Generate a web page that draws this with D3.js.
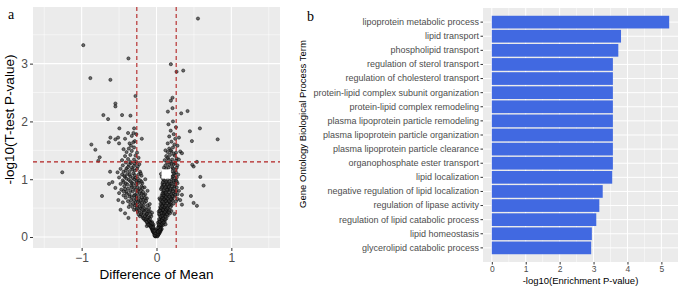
<!DOCTYPE html>
<html>
<head>
<meta charset="utf-8">
<script src="https://cdn.jsdelivr.net/npm/d3@7"></script>
<style>
  body { margin: 0; background: #fff; }
  svg { display: block; font-family: "Liberation Sans", Arial, sans-serif; }
</style>
</head>
<body>
<svg id="chart" width="685" height="289"></svg>
<script>
// ---- panel a: volcano points [difference of mean, -log10 p] ----
const outlierPoints = [
  [0.554, 3.78], [-0.978, 3.32], [-0.375, 3.09], [-0.884, 2.75], [-0.616, 2.72],
  [0.192, 2.99], [0.268, 2.86], [0.357, 2.88], [-0.281, 2.44], [-0.549, 2.31],
  [-0.549, 2.26], [0.214, 2.41], [0.192, 2.36], [-0.71, 2.11], [-0.46, 2.11],
  [-0.348, 2.10], [-0.647, 2.04], [0.152, 2.17], [0.214, 2.23], [0.33, 2.14],
  [0.415, 2.18], [-0.496, 1.88], [-0.299, 1.88], [-0.308, 1.80], [0.58, 1.88],
  [0.446, 1.83], [0.817, 1.69], [-0.196, 1.70], [-0.513, 1.72], [-0.549, 1.69],
  [0.473, 1.66], [-0.87, 1.60], [-0.616, 1.72], [-0.638, 1.64], [-0.5, 1.62],
  [-0.817, 1.51], [-0.759, 1.38], [-0.777, 1.32], [-1.259, 1.12], [-0.62, 1.13],
  [-0.634, 0.92], [-0.589, 0.95], [-0.728, 0.71], [0.585, 1.04], [0.629, 0.89],
  [0.496, 1.22], [0.478, 1.25], [0.54, 1.30], [0.46, 0.71], [0.496, 0.59],
  [0.54, 0.54], [0.34, 0.85], [0.34, 0.73], [0.317, 1.48], [0.34, 1.45],
  [0.299, 1.34], [0.34, 0.56], [0.317, 0.64]
];

const cloudPoints = [
  // tip
  [-0.01, 0.01], [0.01, 0.02], [0.0, 0.03], [-0.02, 0.04], [0.02, 0.03], [-0.03, 0.06],
  [0.03, 0.05], [-0.04, 0.08], [0.04, 0.07], [-0.05, 0.1], [0.05, 0.09], [-0.02, 0.09],
  [0.02, 0.11], [-0.06, 0.13], [0.06, 0.12], [-0.03, 0.14], [0.03, 0.15], [-0.07, 0.16],
  [0.07, 0.14], [0.0, 0.05], [-0.01, 0.07], [0.01, 0.08], [-0.04, 0.12], [0.04, 0.13],
  [-0.015, 0.02], [0.015, 0.04], [-0.025, 0.05], [0.025, 0.07], [-0.035, 0.09], [0.035, 0.1],
  [-0.045, 0.11], [0.045, 0.11], [-0.055, 0.14], [0.055, 0.15], [-0.01, 0.12], [0.01, 0.1],
  // 0.15 - 0.3
  [-0.08, 0.18], [-0.1, 0.2], [-0.05, 0.19], [-0.12, 0.24], [-0.07, 0.22], [-0.09, 0.27],
  [-0.14, 0.28], [-0.04, 0.21], [-0.11, 0.3], [-0.06, 0.26], [-0.13, 0.19], [-0.16, 0.3],
  [0.05, 0.18], [0.07, 0.2], [0.03, 0.19], [0.08, 0.24], [0.04, 0.23], [0.06, 0.27],
  [0.1, 0.29], [0.09, 0.21], [0.05, 0.3], [0.11, 0.26], [0.02, 0.25], [0.12, 0.22],
  [-0.085, 0.25], [-0.1, 0.23], [0.065, 0.25], [0.085, 0.28], [0.035, 0.27], [-0.065, 0.2],
  // 0.3 - 0.5
  [-0.18, 0.33], [-0.1, 0.34], [-0.22, 0.36], [-0.14, 0.38], [-0.07, 0.36], [-0.2, 0.42],
  [-0.25, 0.44], [-0.12, 0.41], [-0.17, 0.46], [-0.09, 0.45], [-0.27, 0.48], [-0.21, 0.5],
  [-0.15, 0.49], [-0.3, 0.47], [-0.24, 0.39], [-0.06, 0.42], [-0.375, 0.33], [-0.42, 0.41],
  [0.06, 0.33], [0.09, 0.35], [0.13, 0.32], [0.04, 0.38], [0.11, 0.4], [0.15, 0.37],
  [0.07, 0.43], [0.1, 0.46], [0.14, 0.44], [0.18, 0.41], [0.05, 0.48], [0.12, 0.5],
  [0.16, 0.48], [0.08, 0.39], [0.2, 0.45], [0.03, 0.44], [0.07, 0.31], [0.1, 0.37],
  [0.13, 0.42], [0.06, 0.46], [0.09, 0.49], [0.24, 0.4],
  // 0.5 - 0.7
  [-0.32, 0.52], [-0.26, 0.54], [-0.19, 0.53], [-0.12, 0.55], [-0.35, 0.57], [-0.28, 0.59],
  [-0.22, 0.58], [-0.16, 0.6], [-0.09, 0.57], [-0.38, 0.62], [-0.3, 0.64], [-0.24, 0.63],
  [-0.18, 0.65], [-0.13, 0.67], [-0.41, 0.68], [-0.33, 0.69], [-0.27, 0.7], [-0.2, 0.68],
  [-0.45, 0.6], [-0.37, 0.52], [-0.51, 0.64], [-0.48, 0.47],
  [0.05, 0.52], [0.1, 0.54], [0.15, 0.53], [0.2, 0.55], [0.07, 0.58], [0.12, 0.59],
  [0.17, 0.6], [0.23, 0.58], [0.06, 0.63], [0.11, 0.65], [0.16, 0.64], [0.21, 0.66],
  [0.26, 0.62], [0.09, 0.69], [0.14, 0.7], [0.19, 0.68], [0.24, 0.7], [0.04, 0.67],
  [0.08, 0.56], [0.13, 0.62], [0.18, 0.57], [0.1, 0.67], [0.28, 0.66],
  // 0.7 - 0.9
  [-0.44, 0.72], [-0.36, 0.74], [-0.29, 0.73], [-0.22, 0.75], [-0.15, 0.74], [-0.4, 0.78],
  [-0.32, 0.79], [-0.25, 0.8], [-0.18, 0.78], [-0.47, 0.82], [-0.38, 0.84], [-0.3, 0.85],
  [-0.23, 0.83], [-0.16, 0.86], [-0.43, 0.88], [-0.34, 0.89], [-0.27, 0.9], [-0.2, 0.88],
  [-0.5, 0.76], [-0.12, 0.8], [-0.44, 0.79], [-0.55, 0.85],
  [0.07, 0.72], [0.12, 0.74], [0.17, 0.73], [0.22, 0.75], [0.28, 0.74], [0.09, 0.78],
  [0.14, 0.79], [0.19, 0.8], [0.25, 0.78], [0.06, 0.83], [0.11, 0.84], [0.16, 0.85],
  [0.21, 0.83], [0.27, 0.86], [0.08, 0.88], [0.13, 0.89], [0.18, 0.9], [0.24, 0.88],
  [0.3, 0.8], [0.1, 0.76], [0.15, 0.82],
  // 0.9 - 1.1
  [-0.48, 0.92], [-0.41, 0.93], [-0.33, 0.94], [-0.26, 0.95], [-0.19, 0.93], [-0.45, 0.98],
  [-0.37, 0.99], [-0.3, 1.0], [-0.22, 0.98], [-0.5, 1.03], [-0.42, 1.04], [-0.35, 1.05],
  [-0.28, 1.03], [-0.2, 1.06], [-0.46, 1.08], [-0.39, 1.09], [-0.31, 1.1], [-0.24, 1.08],
  [-0.15, 1.0],
  [0.08, 0.92], [0.13, 0.94], [0.18, 0.93], [0.23, 0.95], [0.28, 0.93], [0.1, 0.98],
  [0.15, 0.99], [0.2, 1.0], [0.26, 0.98], [0.07, 1.04], [0.22, 1.05], [0.27, 1.03],
  [0.24, 1.09], [0.29, 1.08], [0.06, 1.09],
  // 1.1 - 1.3
  [-0.52, 1.12], [-0.44, 1.13], [-0.36, 1.14], [-0.29, 1.15], [-0.22, 1.13], [-0.48, 1.18],
  [-0.4, 1.19], [-0.33, 1.2], [-0.26, 1.18], [-0.45, 1.24], [-0.37, 1.25], [-0.3, 1.23],
  [-0.23, 1.26], [-0.41, 1.29], [-0.34, 1.28], [-0.27, 1.3],
  [0.09, 1.13], [0.21, 1.14], [0.26, 1.12], [0.1, 1.2], [0.22, 1.19], [0.27, 1.2],
  [0.12, 1.24], [0.17, 1.25], [0.23, 1.26], [0.28, 1.24], [0.14, 1.29], [0.19, 1.3],
  [0.25, 1.28],
  // 1.3 - 1.6
  [-0.46, 1.33], [-0.38, 1.35], [-0.3, 1.34], [-0.24, 1.37], [-0.42, 1.4], [-0.35, 1.42],
  [-0.28, 1.41], [-0.4, 1.47], [-0.33, 1.49], [-0.26, 1.46], [-0.37, 1.53], [-0.3, 1.55],
  [-0.44, 1.52], [-0.34, 1.58],
  [0.11, 1.33], [0.16, 1.35], [0.21, 1.34], [0.27, 1.36], [0.13, 1.4], [0.18, 1.42],
  [0.24, 1.41], [0.15, 1.47], [0.2, 1.48], [0.26, 1.46], [0.17, 1.53], [0.22, 1.55],
  [0.28, 1.58], [0.12, 1.5],
  // 1.6 - 2.0
  [-0.36, 1.62], [-0.29, 1.66], [-0.42, 1.7], [-0.33, 1.75], [-0.27, 1.78], [-0.38, 1.8],
  [-0.31, 1.64],
  [0.15, 1.62], [0.2, 1.65], [0.25, 1.7], [0.17, 1.74], [0.23, 1.78], [0.19, 1.84],
  [0.26, 1.9], [0.16, 1.95], [0.22, 2.0], [0.24, 1.6], [0.3, 1.72]
];

// extra points filling the dense body of the V
const densePoints = [
  [-0.02, 0.015], [0.012, 0.012], [-0.008, 0.035], [0.022, 0.045], [-0.028, 0.028], [0.006, 0.06],
  [-0.018, 0.066], [0.028, 0.085], [-0.038, 0.095], [0.016, 0.095], [-0.048, 0.125], [0.038, 0.118],
  [-0.026, 0.108], [0.048, 0.138], [-0.058, 0.158], [0.052, 0.168], [-0.072, 0.178], [0.032, 0.175],
  [-0.044, 0.168], [0.018, 0.16],
  [-0.09, 0.21], [-0.115, 0.215], [-0.075, 0.245], [-0.13, 0.26], [-0.055, 0.235], [-0.1, 0.285],
  [-0.145, 0.31], [-0.085, 0.31], [-0.17, 0.325], [-0.12, 0.345], [0.042, 0.205], [0.058, 0.215],
  [0.076, 0.235], [0.028, 0.22], [0.094, 0.255], [0.046, 0.265], [0.072, 0.29], [0.115, 0.305],
  [0.035, 0.31], [0.088, 0.325],
  [-0.19, 0.37], [-0.155, 0.36], [-0.13, 0.4], [-0.205, 0.395], [-0.08, 0.39], [-0.165, 0.425],
  [-0.23, 0.46], [-0.11, 0.445], [-0.19, 0.475], [-0.26, 0.505], [-0.135, 0.47], [-0.225, 0.525],
  [-0.1, 0.505], [-0.285, 0.55], [-0.17, 0.545],
  [0.055, 0.355], [0.08, 0.37], [0.12, 0.355], [0.035, 0.4], [0.095, 0.41], [0.14, 0.395],
  [0.065, 0.415], [0.115, 0.435], [0.165, 0.43], [0.045, 0.455], [0.085, 0.47], [0.13, 0.475],
  [0.175, 0.465], [0.06, 0.505], [0.105, 0.515], [0.145, 0.5], [0.19, 0.52], [0.075, 0.535],
  [0.125, 0.545], [0.165, 0.55],
  [-0.31, 0.58], [-0.25, 0.605], [-0.195, 0.59], [-0.14, 0.62], [-0.34, 0.635], [-0.27, 0.655],
  [-0.21, 0.64], [-0.155, 0.675], [-0.36, 0.7], [-0.3, 0.715], [-0.235, 0.695], [-0.17, 0.72],
  [-0.4, 0.745], [-0.26, 0.76], [-0.2, 0.745],
  [0.055, 0.575], [0.095, 0.59], [0.14, 0.585], [0.19, 0.6], [0.075, 0.615], [0.12, 0.625],
  [0.17, 0.62], [0.215, 0.635], [0.05, 0.645], [0.1, 0.655], [0.145, 0.67], [0.195, 0.655],
  [0.075, 0.685], [0.125, 0.69], [0.17, 0.7], [0.215, 0.71], [0.09, 0.725], [0.14, 0.735],
  [0.195, 0.74], [0.25, 0.73],
  [-0.35, 0.8], [-0.28, 0.815], [-0.21, 0.81], [-0.42, 0.83], [-0.33, 0.86], [-0.255, 0.865],
  [-0.185, 0.85], [-0.39, 0.91], [-0.31, 0.92], [-0.24, 0.935], [-0.44, 0.95], [-0.35, 0.965],
  [-0.27, 0.97], [-0.2, 0.96], [-0.4, 1.01], [-0.32, 1.02], [-0.25, 1.015],
  [0.08, 0.755], [0.125, 0.765], [0.17, 0.775], [0.22, 0.79], [0.265, 0.8], [0.095, 0.81],
  [0.14, 0.82], [0.185, 0.835], [0.235, 0.84], [0.07, 0.855], [0.12, 0.865], [0.165, 0.87],
  [0.205, 0.88], [0.1, 0.905], [0.145, 0.915], [0.2, 0.925], [0.25, 0.91], [0.085, 0.95],
  [0.13, 0.96], [0.175, 0.965], [0.225, 0.975], [0.27, 0.96], [0.09, 1.0], [0.245, 1.02],
  [0.2, 1.04],
  [-0.43, 1.06], [-0.36, 1.08], [-0.29, 1.07], [-0.21, 1.1], [-0.41, 1.15], [-0.32, 1.17],
  [-0.25, 1.22], [-0.38, 1.21], [-0.35, 1.3], [-0.29, 1.27],
  [0.23, 1.1], [0.255, 1.16], [0.21, 1.21], [0.16, 1.2], [0.13, 1.18], [0.2, 1.27],
  [0.26, 1.32], [0.15, 1.37], [0.23, 1.44], [0.19, 1.5]
];

const xTicksA = [-1, 0, 1];
const yTicksA = [0, 1, 2, 3];
const foldCut = [-0.263, 0.263];
const pCut = 1.301;

// ---- panel b: GO enrichment ----
const goTerms = [
  'lipoprotein metabolic process',
  'lipid transport',
  'phospholipid transport',
  'regulation of sterol transport',
  'regulation of cholesterol transport',
  'protein-lipid complex subunit organization',
  'protein-lipid complex remodeling',
  'plasma lipoprotein particle remodeling',
  'plasma lipoprotein particle organization',
  'plasma lipoprotein particle clearance',
  'organophosphate ester transport',
  'lipid localization',
  'negative regulation of lipid localization',
  'regulation of lipase activity',
  'regulation of lipid catabolic process',
  'lipid homeostasis',
  'glycerolipid catabolic process'
];
const goScores = [5.23, 3.81, 3.73, 3.57, 3.57, 3.57, 3.57, 3.57, 3.57, 3.57, 3.57, 3.55, 3.27, 3.17, 3.08, 2.95, 2.93];
const xTicksB = [0, 1, 2, 3, 4, 5];

const svg = d3.select('#chart');
const tickGray = '#4d4d4d';

// ================= panel a =================
const a = { left: 33, right: 280, top: 7, bottom: 248 };
const xA = d3.scaleLinear().domain([-1.65, 1.65]).range([a.left, a.right]);
const yA = d3.scaleLinear().domain([-0.19, 3.98]).range([a.bottom, a.top]);

const gA = svg.append('g');
gA.append('rect')
  .attr('x', a.left).attr('y', a.top)
  .attr('width', a.right - a.left).attr('height', a.bottom - a.top)
  .attr('fill', '#ebebeb');

// minor grid
gA.selectAll('.vminor').data([-1.5, -0.5, 0.5, 1.5]).join('line')
  .attr('x1', (d) => xA(d)).attr('x2', (d) => xA(d))
  .attr('y1', a.top).attr('y2', a.bottom)
  .attr('stroke', '#fff').attr('stroke-width', 0.5);
gA.selectAll('.hminor').data([0.5, 1.5, 2.5, 3.5]).join('line')
  .attr('y1', (d) => yA(d)).attr('y2', (d) => yA(d))
  .attr('x1', a.left).attr('x2', a.right)
  .attr('stroke', '#fff').attr('stroke-width', 0.5);
// major grid
gA.selectAll('.vmajor').data(xTicksA).join('line')
  .attr('x1', (d) => xA(d)).attr('x2', (d) => xA(d))
  .attr('y1', a.top).attr('y2', a.bottom)
  .attr('stroke', '#fff').attr('stroke-width', 1.1);
gA.selectAll('.hmajor').data(yTicksA).join('line')
  .attr('y1', (d) => yA(d)).attr('y2', (d) => yA(d))
  .attr('x1', a.left).attr('x2', a.right)
  .attr('stroke', '#fff').attr('stroke-width', 1.1);

// points
gA.append('g').selectAll('circle').data(cloudPoints.concat(densePoints, outlierPoints)).join('circle')
  .attr('cx', (d) => xA(d[0]))
  .attr('cy', (d) => yA(d[1]))
  .attr('r', 1.6)
  .attr('fill', '#333')
  .attr('fill-opacity', 0.7)
  .attr('stroke', '#000')
  .attr('stroke-opacity', 0.8)
  .attr('stroke-width', 0.6);

// white patch present in the figure
gA.append('rect')
  .attr('x', xA(0.067)).attr('y', yA(1.17))
  .attr('width', xA(0.192) - xA(0.067)).attr('height', yA(1.01) - yA(1.17))
  .attr('fill', '#fff');

// threshold lines
gA.selectAll('.vcut').data(foldCut).join('line')
  .attr('x1', (d) => xA(d)).attr('x2', (d) => xA(d))
  .attr('y1', a.top).attr('y2', a.bottom)
  .attr('stroke', '#b22222').attr('stroke-width', 1.1)
  .attr('stroke-dasharray', '4,3');
gA.append('line')
  .attr('x1', a.left).attr('x2', a.right)
  .attr('y1', yA(pCut)).attr('y2', yA(pCut))
  .attr('stroke', '#b22222').attr('stroke-width', 1.1)
  .attr('stroke-dasharray', '4,3');

// axes
const xAxisA = gA.append('g')
  .attr('transform', `translate(0,${a.bottom})`)
  .call(d3.axisBottom(xA).tickValues(xTicksA).tickSize(3).tickPadding(2).tickFormat(d3.format('d')));
const yAxisA = gA.append('g')
  .attr('transform', `translate(${a.left},0)`)
  .call(d3.axisLeft(yA).tickValues(yTicksA).tickSize(3).tickPadding(2).tickFormat(d3.format('d')));
[xAxisA, yAxisA].forEach((g) => {
  g.select('.domain').remove();
  g.selectAll('.tick line').attr('stroke', '#333');
  g.selectAll('.tick text').attr('fill', tickGray).attr('font-size', 12)
    .style('font-family', '"Liberation Sans", Arial, sans-serif');
});

gA.append('text')
  .attr('x', (a.left + a.right) / 2).attr('y', 279)
  .attr('text-anchor', 'middle').attr('font-size', 13.5)
  .text('Difference of Mean');
gA.append('text')
  .attr('transform', `translate(14,${(a.top + a.bottom) / 2 - 8}) rotate(-90)`)
  .attr('text-anchor', 'middle').attr('font-size', 13.5)
  .text('-log10(T-test P-value)');
gA.append('text')
  .attr('x', 8).attr('y', 19)
  .attr('font-family', '"Liberation Serif", "Times New Roman", serif')
  .attr('font-size', 14)
  .text('a');

// ================= panel b =================
const b = { left: 483, right: 678, top: 8, bottom: 262 };
const xB = d3.scaleLinear().domain([-0.26, 5.49]).range([b.left, b.right]);
const yB = d3.scaleBand().domain(goTerms).range([b.top, b.bottom]).paddingInner(0.1).paddingOuter(0.55);

const gB = svg.append('g');
gB.append('rect')
  .attr('x', b.left).attr('y', b.top)
  .attr('width', b.right - b.left).attr('height', b.bottom - b.top)
  .attr('fill', '#ebebeb');
gB.selectAll('.vminor').data([0.5, 1.5, 2.5, 3.5, 4.5]).join('line')
  .attr('x1', (d) => xB(d)).attr('x2', (d) => xB(d))
  .attr('y1', b.top).attr('y2', b.bottom)
  .attr('stroke', '#fff').attr('stroke-width', 0.5);
gB.selectAll('.vmajor').data(xTicksB).join('line')
  .attr('x1', (d) => xB(d)).attr('x2', (d) => xB(d))
  .attr('y1', b.top).attr('y2', b.bottom)
  .attr('stroke', '#fff').attr('stroke-width', 1);
gB.selectAll('.hmajor').data(goTerms).join('line')
  .attr('y1', (d) => yB(d) + yB.bandwidth() / 2).attr('y2', (d) => yB(d) + yB.bandwidth() / 2)
  .attr('x1', b.left).attr('x2', b.right)
  .attr('stroke', '#fff').attr('stroke-width', 1);

gB.selectAll('.bar').data(goTerms).join('rect')
  .attr('x', xB(0))
  .attr('y', (d) => yB(d))
  .attr('width', (d, i) => xB(goScores[i]) - xB(0))
  .attr('height', yB.bandwidth())
  .attr('fill', '#4169e1');

const xAxisB = gB.append('g')
  .attr('transform', `translate(0,${b.bottom})`)
  .call(d3.axisBottom(xB).tickValues(xTicksB).tickSize(2.5).tickPadding(1).tickFormat(d3.format('d')));
const yAxisB = gB.append('g')
  .attr('transform', `translate(${b.left},0)`)
  .call(d3.axisLeft(yB).tickSize(2.5).tickPadding(1.5));
[xAxisB, yAxisB].forEach((g) => {
  g.select('.domain').remove();
  g.selectAll('.tick line').attr('stroke', '#333');
  g.selectAll('.tick text').attr('fill', tickGray).attr('font-size', 9)
    .style('font-family', '"Liberation Sans", Arial, sans-serif');
});
xAxisB.selectAll('.tick text').attr('font-size', 8.5);

gB.append('text')
  .attr('x', (b.left + b.right) / 2).attr('y', 284)
  .attr('text-anchor', 'middle').attr('font-size', 9.5)
  .text('-log10(Enrichment P-value)');
gB.append('text')
  .attr('transform', `translate(306,124) rotate(-90)`)
  .attr('text-anchor', 'middle').attr('font-size', 9.5)
  .text('Gene Ontology Biological Process Term');
gB.append('text')
  .attr('x', 307).attr('y', 21)
  .attr('font-family', '"Liberation Serif", "Times New Roman", serif')
  .attr('font-size', 14)
  .text('b');
</script>
</body>
</html>
